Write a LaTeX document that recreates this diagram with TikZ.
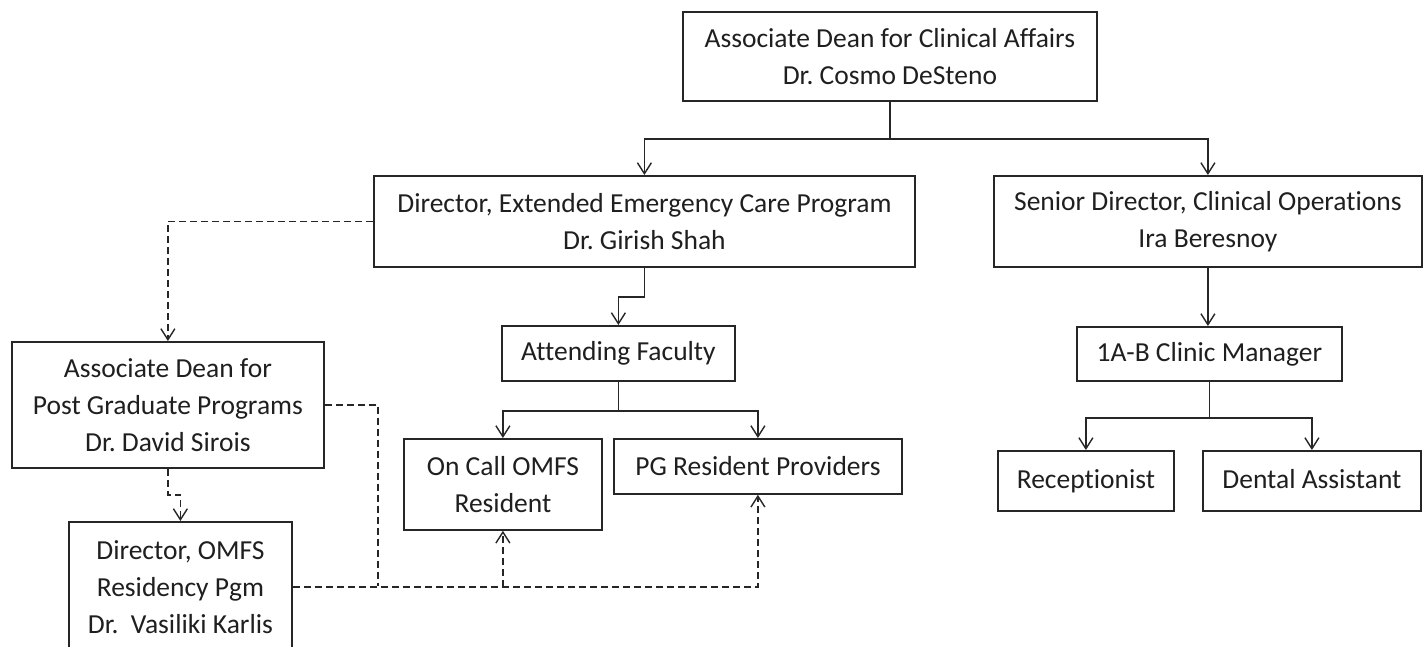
\documentclass[tikz,border=0pt]{standalone}
\usepackage{fontspec}
\setmainfont{Carlito}[Ligatures=NoCommon]
\frenchspacing
\usetikzlibrary{arrows.meta}
\begin{document}
\begin{tikzpicture}[x=1pt,y=-1pt,
  box/.style={draw=black!85, line width=1.8pt, inner sep=0pt, align=center,
    anchor=north west, text=black!88, font=\fontsize{27.5}{37}\selectfont},
  conn/.style={draw=black!85, line width=1.5pt},
  tip/.style={-{Straight Barb[length=11pt,width=14pt,line width=1.4pt]}},
  dsh/.style={conn, dash pattern=on 7pt off 4pt}]
\useasboundingbox (0,0) rectangle (1426,647);
\fill[white] (0,0) rectangle (1426,647);
% boxes (top-left corner, width, height)
\node[box, minimum width=414, minimum height=89] (top) at (682,11)
  {Associate Dean for Clinical Affairs\\Dr. Cosmo DeSteno};
\node[box, minimum width=541, minimum height=91] (dir) at (373,175)
  {Director, Extended Emergency Care Program\\Dr. Girish Shah};
\node[box, minimum width=428, minimum height=91] (sen) at (993,175)
  {Senior Director, Clinical Operations\\Ira Beresnoy};
\node[box, minimum width=233, minimum height=55] (att) at (501,325)
  {Attending Faculty};
\node[box, minimum width=265, minimum height=54] (cm) at (1076,326)
  {1A-B Clinic Manager};
\node[box, minimum width=198, minimum height=91] (oncall) at (403,438)
  {On Call OMFS\\Resident};
\node[box, minimum width=288, minimum height=55] (pg) at (613,438)
  {PG Resident Providers};
\node[box, minimum width=176, minimum height=60] (rec) at (997,450)
  {\strut Receptionist};
\node[box, minimum width=218, minimum height=60] (den) at (1202,450)
  {\strut Dental Assistant};
\node[box, minimum width=312, minimum height=126] (pgad) at (11,341)
  {Associate Dean for\\Post Graduate Programs\\Dr. David Sirois};
\node[box, minimum width=223, minimum height=130] (omfs) at (68,521)
  {Director, OMFS\\Residency Pgm\\Dr.\ \ Vasiliki Karlis};
% solid connectors
\draw[conn] (top.south) -- ++(0,37) coordinate (j1);
\draw[conn,tip] (j1) -| (dir.north);
\draw[conn,tip] (j1) -| (sen.north);
\draw[conn,tip] (dir.south) -- ++(0,29) -| (att.north);
\draw[conn] (att.south) -- ++(0,29) coordinate (j2);
\draw[conn,tip] (j2) -| (oncall.north);
\draw[conn,tip] (j2) -| (pg.north);
\draw[conn,tip] (sen.south) -- (sen.south |- cm.north);
\draw[conn] (cm.south) -- ++(0,36) coordinate (j3);
\draw[conn,tip] (j3) -| (rec.north);
\draw[conn,tip] (j3) -| (den.north);
% dashed connectors
\draw[dsh,tip] (dir.west) -| (pgad.north);
\draw[dsh,tip] (pgad.south) -- ++(0,26) -| (omfs.north);
\coordinate (c1) at (378,586);
\draw[dsh] (pgad.east) -| (c1);
\draw[dsh,tip] (omfs.east) -| (pg.south);
\draw[dsh,tip] (oncall.south |- omfs.east) -- (oncall.south);
\end{tikzpicture}
\end{document}
